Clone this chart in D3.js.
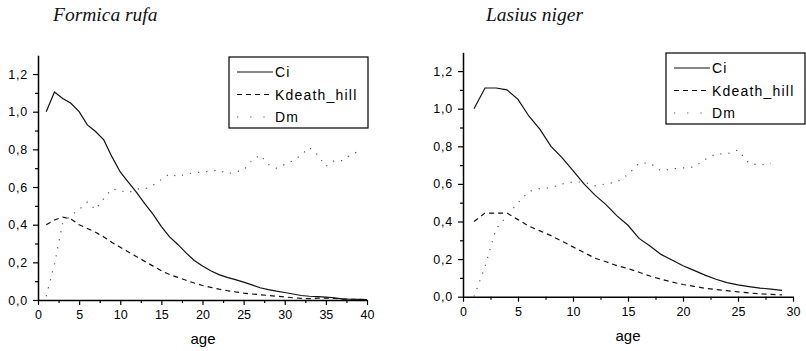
<!DOCTYPE html>
<html>
<head>
<meta charset="utf-8">
<script src="https://cdn.jsdelivr.net/npm/d3@7"></script>
<style>
  body { margin: 0; background: #fff; }
  svg { display: block; }
  .tick text { font-family: "Liberation Sans", Arial, sans-serif; font-size: 12.5px; fill: #000; }
  .legend text { font-family: "Liberation Sans", Arial, sans-serif; font-size: 14px; letter-spacing: 1.2px; }
</style>
</head>
<body>
<div id="chart"></div>
<script>
// Formica rufa, ages 1..40
const agesRufa = d3.range(1, 41);
const ciRufa = [1.00, 1.105, 1.07, 1.045, 1.00, 0.93, 0.895, 0.85, 0.76, 0.68,
  0.625, 0.57, 0.51, 0.455, 0.39, 0.335, 0.295, 0.25, 0.21, 0.18,
  0.155, 0.135, 0.12, 0.108, 0.095, 0.08, 0.065, 0.055, 0.047, 0.04,
  0.032, 0.024, 0.02, 0.018, 0.015, 0.012, 0.006, 0.004, 0.003, 0.002];
const kdRufa = [0.40, 0.425, 0.44, 0.43, 0.40, 0.38, 0.36, 0.335, 0.305, 0.28,
  0.255, 0.23, 0.205, 0.18, 0.155, 0.135, 0.12, 0.105, 0.09, 0.077,
  0.067, 0.058, 0.05, 0.043, 0.037, 0.032, 0.028, 0.024, 0.02, 0.016,
  0.012, 0.009, 0.007, 0.01, 0.01, 0.008, 0.005, 0.004, 0.003, 0.002];
const dmAgesRufa = d3.range(1, 40);
const dmRufa = [0.02, 0.19, 0.41, 0.45, 0.48, 0.52, 0.48, 0.54, 0.59, 0.58,
  0.57, 0.59, 0.59, 0.61, 0.64, 0.67, 0.655, 0.67, 0.675, 0.68,
  0.685, 0.69, 0.67, 0.68, 0.69, 0.74, 0.77, 0.72, 0.70, 0.72,
  0.74, 0.77, 0.81, 0.77, 0.71, 0.74, 0.74, 0.77, 0.79];

// Lasius niger, ages 1..29
const agesNiger = d3.range(1, 30);
const ciNiger = [1.0, 1.11, 1.11, 1.10, 1.05, 0.96, 0.89, 0.80, 0.74, 0.67,
  0.60, 0.54, 0.49, 0.43, 0.38, 0.31, 0.27, 0.225, 0.195, 0.165,
  0.14, 0.115, 0.093, 0.075, 0.063, 0.054, 0.046, 0.04, 0.034];
const kdNiger = [0.40, 0.445, 0.445, 0.445, 0.41, 0.375, 0.35, 0.325, 0.295, 0.265,
  0.235, 0.205, 0.186, 0.165, 0.15, 0.13, 0.11, 0.093, 0.078, 0.065,
  0.055, 0.045, 0.038, 0.032, 0.026, 0.02, 0.015, 0.012, 0.01];
const dmAgesNiger = d3.range(1, 29);
const dmNiger = [0.0, 0.16, 0.36, 0.43, 0.50, 0.56, 0.575, 0.58, 0.60, 0.61,
  0.61, 0.59, 0.60, 0.61, 0.65, 0.71, 0.71, 0.67, 0.68, 0.685,
  0.69, 0.73, 0.76, 0.76, 0.78, 0.71, 0.70, 0.71];

const yMajor = [0, 0.2, 0.4, 0.6, 0.8, 1.0, 1.2];
const seriesNames = ["Ci", "Kdeath_hill", "Dm"];
const dashes = [null, "5,4", "1.2,7"];
const colors = ["#111", "#111", "#555"];

const svg = d3.select("#chart").append("svg")
  .attr("width", 806)
  .attr("height", 351);

const commaFmt = d => d3.format(".1f")(d).replace(".", ",");

function drawPanel(p) {
  let x = d3.scaleLinear().domain([0, p.xMax]).range([p.left, p.right]);
  let y = d3.scaleLinear().domain([0, 1.3]).range([p.bottom, p.bottom - 1.3 * p.unit]);

  let g = svg.append("g");

  // title
  g.append("text")
    .attr("x", p.titleX)
    .attr("y", 21)
    .style("font-family", "'Liberation Serif', 'Times New Roman', serif")
    .style("font-style", "italic")
    .style("font-size", "19.5px")
    .style("fill", "#111")
    .text(p.title);

  // minor ticks
  let xMinor = d3.range(2.5, p.xMax, 5);
  let yMinor = [0.1, 0.3, 0.5, 0.7, 0.9, 1.1];

  g.append("g")
    .attr("transform", `translate(0,${p.bottom})`)
    .call(d3.axisBottom(x).tickValues(xMinor).tickSize(3).tickFormat(""))
    .call(a => a.select(".domain").remove());
  g.append("g")
    .attr("transform", `translate(${p.left},0)`)
    .call(d3.axisLeft(y).tickValues(yMinor).tickSize(3).tickFormat(""))
    .call(a => a.select(".domain").remove());

  // main axes
  g.append("g")
    .attr("transform", `translate(0,${p.bottom})`)
    .call(d3.axisBottom(x).tickValues(d3.range(0, p.xMax + 1, 5)).tickSize(5).tickSizeOuter(0).tickPadding(5))
    .call(a => a.select(".domain").attr("stroke-width", 1.5));
  g.append("g")
    .attr("transform", `translate(${p.left},0)`)
    .call(d3.axisLeft(y).tickValues(yMajor).tickFormat(commaFmt).tickSize(5).tickSizeOuter(0).tickPadding(5))
    .call(a => a.select(".domain").attr("stroke-width", 1.5))
    .selectAll("text").style("letter-spacing", "0.8px");

  g.selectAll(".tick line").attr("stroke-width", 1.2);

  // x label
  g.append("text")
    .attr("x", p.ageX)
    .attr("y", p.bottom + 44)
    .attr("text-anchor", "middle")
    .style("font-family", "'Liberation Sans', Arial, sans-serif")
    .style("font-size", "15px")
    .text("age");

  let line = d3.line()
    .x(d => x(d[0]))
    .y(d => y(d[1]));

  let series = [
    d3.zip(p.ages, p.ci),
    d3.zip(p.ages, p.kd),
    d3.zip(p.dmAges, p.dm)
  ];

  series.forEach((s, i) => {
    g.append("path")
      .datum(s)
      .attr("fill", "none")
      .attr("stroke", colors[i])
      .attr("stroke-width", 1.2)
      .attr("stroke-dasharray", dashes[i])
      .attr("d", line);
  });

  // legend
  let lg = g.append("g").attr("class", "legend");
  lg.append("rect")
    .attr("x", p.legX)
    .attr("y", p.legY)
    .attr("width", 139)
    .attr("height", 71)
    .attr("fill", "#fff")
    .attr("stroke", "#000")
    .attr("stroke-width", 1.2);

  seriesNames.forEach((name, i) => {
    let ry = p.legY + 15 + i * 22.5;
    lg.append("line")
      .attr("x1", p.legX + 8)
      .attr("x2", p.legX + 44)
      .attr("y1", ry)
      .attr("y2", ry)
      .attr("stroke", colors[i])
      .attr("stroke-width", 1.2)
      .attr("stroke-dasharray", i == 2 ? "1.2,12" : dashes[i]);
    lg.append("text")
      .attr("x", p.legX + 46)
      .attr("y", ry + 5)
      .text(name);
  });
}

drawPanel({
  title: "Formica rufa", titleX: 53,
  xMax: 40, left: 38, right: 367, bottom: 300, unit: 188.3,
  ageX: 203,
  ages: agesRufa, ci: ciRufa, kd: kdRufa, dmAges: dmAgesRufa, dm: dmRufa,
  legX: 229, legY: 57
});

drawPanel({
  title: "Lasius niger", titleX: 486,
  xMax: 30, left: 463, right: 793, bottom: 296.7, unit: 188,
  ageX: 628,
  ages: agesNiger, ci: ciNiger, kd: kdNiger, dmAges: dmAgesNiger, dm: dmNiger,
  legX: 666, legY: 53
});
</script>
</body>
</html>
